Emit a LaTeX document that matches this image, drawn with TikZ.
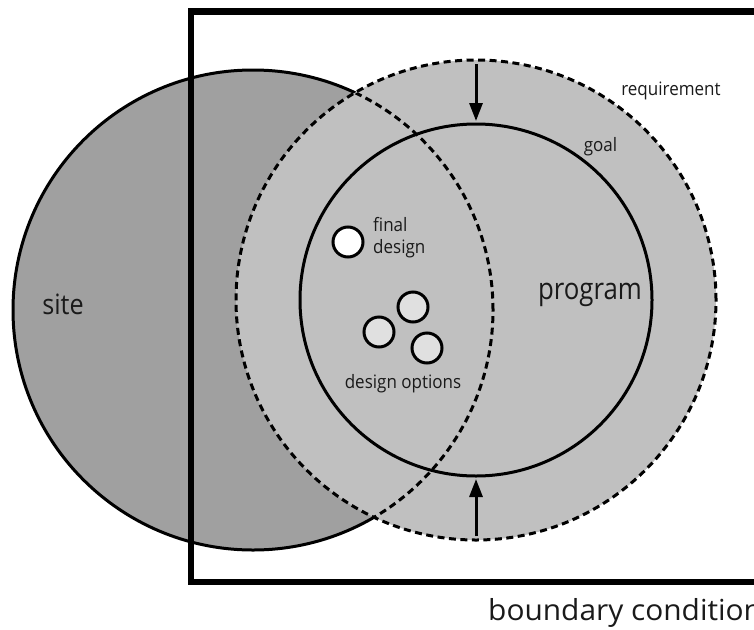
\documentclass[tikz,border=0pt]{standalone}
\usepackage{fontspec}
\setmainfont{Open Sans}
\newfontfamily\smallsans[FakeStretch=0.92]{Open Sans}
\newfontfamily\sitesans[FakeStretch=0.9]{Open Sans}
\newfontfamily\progsans[FakeStretch=0.86]{Open Sans}
\newfontfamily\boundsans[FakeStretch=1.03]{Open Sans}
\usetikzlibrary{arrows.meta}
\definecolor{sitegray}{HTML}{A0A0A0}
\definecolor{reqgray}{HTML}{C0C0C0}
\definecolor{optgray}{HTML}{E0E0E0}
\definecolor{txt}{HTML}{1A1A1A}
\tikzset{
  ring/.style={circle, inner sep=0pt, outer sep=0pt, line width=3pt, draw=black},
  dashring/.style={ring, dash pattern=on 7pt off 4.5pt},
  smallc/.style={circle, inner sep=0pt, outer sep=0pt, minimum size=30pt, line width=3pt, draw=black},
  push/.style={line width=3pt, shorten >=3pt, -{Triangle[length=18pt,width=13pt]}},
  lab/.style={text=txt, inner sep=0pt, font=\smallsans\fontsize{18.5}{21.6}\selectfont, align=left},
}
\begin{document}
\begin{tikzpicture}[x=1pt,y=-1pt]
\useasboundingbox (0,0) rectangle (754,629);
% site
\node[ring, fill=sitegray, minimum size=480pt] (site) at (253,310) {};
% requirement
\node[dashring, fill=reqgray, minimum size=480pt] (req) at (476,300) {};
% site border inside requirement, dashed
\begin{scope}
  \clip (476,300) circle[radius=239pt];
  \draw[line width=3pt, dash pattern=on 7pt off 4.5pt] (253,310) circle[radius=240pt];
\end{scope}
% goal
\node[ring, minimum size=352pt] (goal) at (476,300) {};
% boundary rectangle
\draw[line width=6.5pt] (191,11.5) rectangle (800,582);
% arrows
\draw[push] ([yshift=-4pt]req.north) -- (goal.north);
\draw[push] ([yshift=4pt]req.south) -- (goal.south);
% small circles
\node[smallc, fill=white] (final) at (348,242) {};
\node[smallc, fill=optgray] (opt1) at (413,307) {};
\node[smallc, fill=optgray] (opt2) at (379,332) {};
\node[smallc, fill=optgray] (opt3) at (427,348) {};
% labels
\node[lab, anchor=west] (tfinal) at (373,237.5) {final\\design};
\node[lab, anchor=base] (topts) at (403,388.3) {design options};
\node[lab, anchor=base] (treq) at (671,95) {requirement};
\node[lab, anchor=base] (tgoal) at (600.5,151.7) {goal};
\node[text=txt, inner sep=0pt, anchor=base, font=\sitesans\fontsize{28}{32}\selectfont] (tsite) at (63,314.3) {site};
\node[text=txt, inner sep=0pt, anchor=base, font=\progsans\fontsize{30}{34}\selectfont] (tprog) at (590,299.3) {program};
\node[text=txt, inner sep=0pt, anchor=base west, font=\boundsans\fontsize{29}{33}\selectfont] (tbound) at (488,620.7) {boundary condition};
\end{tikzpicture}
\end{document}
